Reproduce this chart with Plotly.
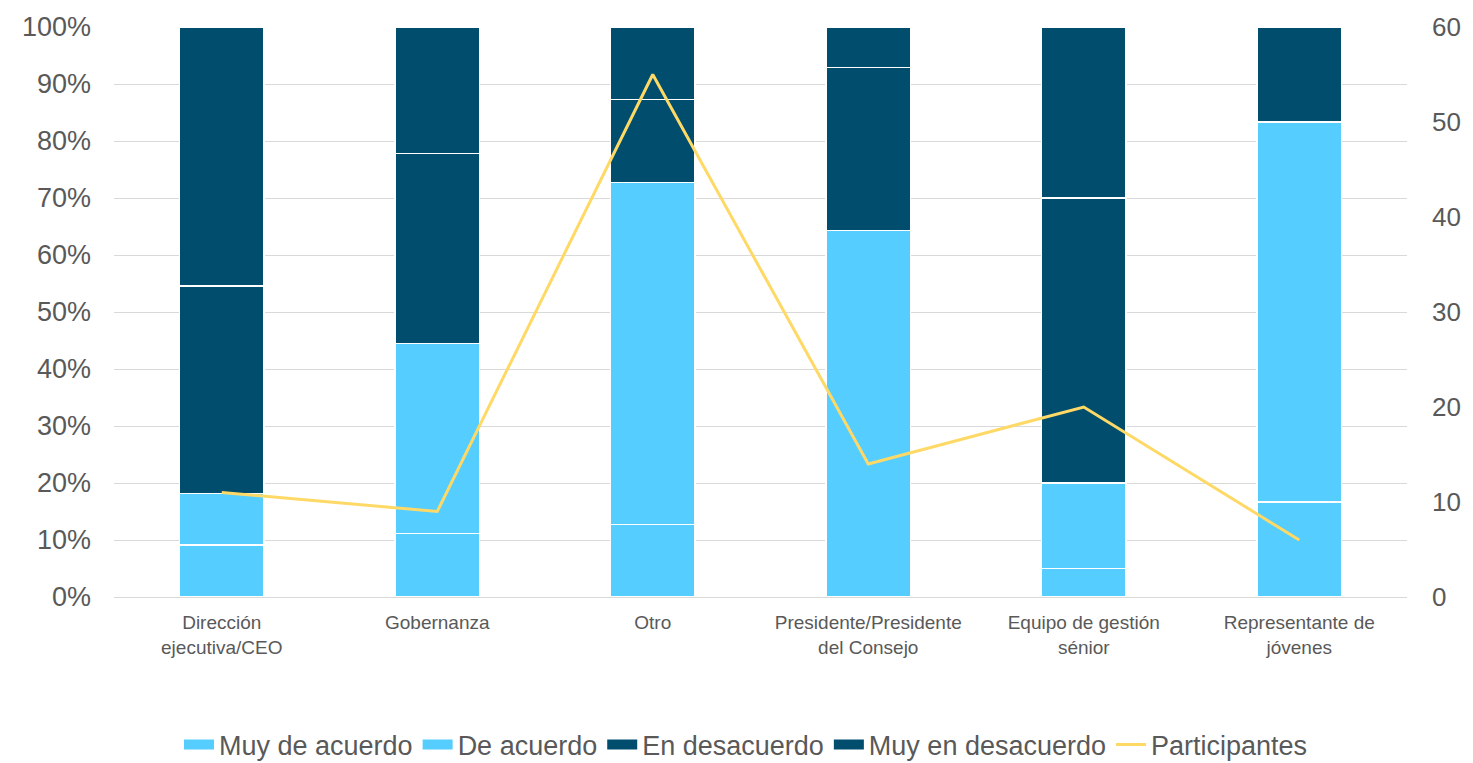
import plotly.graph_objects as go

categories = ["Dirección<br>ejecutiva/CEO", "Gobernanza", "Otro",
              "Presidente/Presidente<br>del Consejo", "Equipo de gestión<br>sénior",
              "Representante de<br>jóvenes"]
muy_de_acuerdo = [0.0909, 0.1111, 0.1273, 0.0, 0.05, 0.1667]
de_acuerdo = [0.0909, 0.3333, 0.6000, 0.6429, 0.15, 0.6667]
en_desacuerdo = [0.3636, 0.3333, 0.1455, 0.2857, 0.50, 0.0]
muy_en_desacuerdo = [0.4545, 0.2222, 0.1273, 0.0714, 0.30, 0.1667]
participantes = [11, 9, 55, 14, 20, 6]

LIGHT = "#55CDFF"
DARK = "#004D6E"
YELLOW = "#FFD966"
GREY = "#595959"

fig = go.Figure()
series = [("Muy de acuerdo", muy_de_acuerdo, LIGHT),
          ("De acuerdo", de_acuerdo, LIGHT),
          ("En desacuerdo", en_desacuerdo, DARK),
          ("Muy en desacuerdo", muy_en_desacuerdo, DARK)]
for name, vals, col in series:
    fig.add_trace(go.Bar(name=name, x=categories, y=vals, legendgroup=name,
                         showlegend=False,
                         marker=dict(color=col, line=dict(color="white", width=1.5))))
fig.add_trace(go.Scatter(name="Participantes", x=categories, y=participantes,
                         mode="lines", line=dict(color=YELLOW, width=3), yaxis="y2",
                         showlegend=False, legendgroup="Participantes"))
# legend entries (wide rectangular swatches like the original)
for name, vals, col in series:
    fig.add_trace(go.Scatter(name=name, x=[None], y=[None], mode="lines",
                             legendgroup=name, line=dict(color=col, width=10)))
fig.add_trace(go.Scatter(name="Participantes", x=[None], y=[None], mode="lines",
                         legendgroup="Participantes", yaxis="y2",
                         line=dict(color=YELLOW, width=3)))

fig.update_layout(
    barmode="stack", bargap=0.61,
    width=1473, height=763,
    margin=dict(l=114, r=61, t=27, b=166),
    plot_bgcolor="white", paper_bgcolor="white",
    font=dict(family="Liberation Sans, Arial", color=GREY),
    xaxis=dict(tickfont=dict(size=19, color=GREY), showline=True,
               linecolor="#D9D9D9", linewidth=1, ticks="", ticklabelstandoff=8),
    yaxis=dict(range=[0, 1], dtick=0.1, tickformat=".0%",
               tickfont=dict(size=27, color=GREY), showgrid=True,
               gridcolor="#D9D9D9", gridwidth=1, zeroline=False, ticks="",
               ticklabelstandoff=22),
    yaxis2=dict(range=[0, 60], dtick=10, overlaying="y", side="right",
                tickfont=dict(size=26, color=GREY), showgrid=False, zeroline=False,
                ticklabelstandoff=24),
    legend=dict(orientation="h", x=746 / 1473, xref="container", xanchor="center",
                y=(763 - 745) / 763, yref="container", yanchor="middle",
                font=dict(size=27, color=GREY), traceorder="normal",
                tracegroupgap=0, itemwidth=30),
    showlegend=True,
)
fig.write_html("out.html", config={"displayModeBar": False},
               post_script="document.body.style.margin='0px';")
